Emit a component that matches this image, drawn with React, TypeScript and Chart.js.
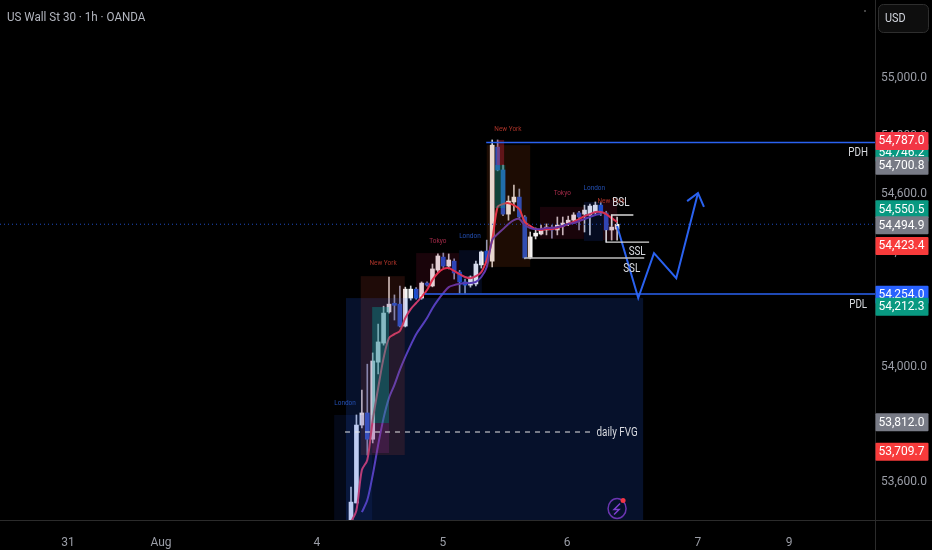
import React, { useEffect, useRef } from "react";
import { Chart, registerables } from "chart.js";

Chart.register(...registerables);

// ---- candles (bar index, prices) ----
const opens = [53452,53529,53799,53841,53750,54017,54083,54191,54221,54218,54142,54239,54270,54239,54291,54281,54336,54381,54350,54367,54329,54295,54284,54288,54354,54402,54367,54762,54683,54530,54572,54589,54520,54378,54454,54461,54475,54485,54475,54489,54499,54509,54534,54530,54527,54537,54561,54534,54475,54478];
const closes = [53532,53799,53841,53750,54021,54087,54187,54218,54214,54142,54270,54270,54239,54291,54284,54340,54385,54350,54371,54326,54295,54284,54312,54357,54399,54364,54769,54683,54530,54575,54589,54520,54378,54451,54464,54475,54485,54475,54492,54499,54509,54527,54520,54544,54558,54561,54534,54475,54485,54494.9];
const highs = [53584,53834,53920,54010,54049,54149,54211,54312,54250,54281,54277,54281,54275,54295,54295,54357,54392,54395,54392,54375,54335,54305,54316,54367,54402,54440,54787,54787,54700,54593,54631,54617,54525,54468,54482,54492,54496,54492,54520,54520,54523,54535,54540,54561,54565,54572,54570,54540,54527,54520];
const lows = [53440,53529,53789,53695,53737,53976,54076,54187,54163,54139,54139,54232,54235,54235,54280,54278,54329,54345,54340,54305,54256,54256,54277,54281,54343,54360,54347,54680,54525,54509,54541,54515,54375,54375,54444,54458,54458,54447,54458,54458,54490,54500,54475,54468,54458,54530,54525,54433,54440,54440];

// ---- moving averages, one value per candle ----
const redAverage = [53463,53504,53643,53678,53816,53927,54031,54101,54114,54125,54170,54201,54222,54243,54267,54302,54326,54340,54343,54333,54322,54312,54308,54315,54329,54371,54440,54555,54565,54568,54561,54548,54503,54489,54478,54475,54478,54478,54482,54489,54496,54503,54513,54523,54530,54537,54537,54530,54516,54503];
const purpleAverage = [null,null,53497,53539,53626,53730,53823,53893,53938,53990,54035,54076,54114,54142,54170,54204,54232,54256,54277,54284,54288,54291,54291,54295,54312,54347,54440,54461,54478,54496,54509,54513,54492,54482,54478,54478,54482,54482,54485,54489,54496,54499,54506,54513,54520,54527,54530];

// ---- projection ----
const projectionX = [49,52.9,55.8,59.9,63.9];
const projectionY = [54489,54239,54395,54308,54603];
const arrowX = [61.9,63.9,65];
const arrowY = [54575,54603,54555];

// ---- axes ----
const dayTickPositions = [-52.1,-35,-6.3,16.9,39.8,63.9,80.7];
const dayTickLabels = ["31","Aug","4","5","6","7","9"];
const priceTicks = [53600,53800,54000,54200,54400,54600,54800,55000];

// ---- price tags on the axis ----
const tagValues = [54746.2,54787.0,54700.8,54550.5,54494.9,54423.4,54254.0,54212.3,53812.0,53709.7];
const tagColors = ["#089981","#f23645","#787b86","#089981","#787b86","#f83b3b","#2962ff","#089981","#787b86","#f83b3b"];

// ---- horizontal levels: [x0, x1, price] ----
const pdhLevel = [24.9,96.5,54778];
const pdlLevel = [13.6,96.5,54253];
const fvgLevel = [-1.1,44.4,53775];
const lastPrice = 54494.9;
const bslX = [48,48,52];
const bslY = [54490,54527,54527];
const ssl1X = [47,47,54.9];
const ssl1Y = [54475,54433,54433];
const ssl2X = [31.9,54];
const ssl2Y = [54378,54378];

// ---- shaded zones ----
const zoneLeft = [-0.92,-3.1,1.8,3.9,3.9,12,19.9,25,26.5,26.9,34.8,42.9,46.4];
const zoneRight = [53.8,3.9,9.9,7,7,19.9,24.1,33,28.4,28.2,42.9,46.4,49];
const zoneTop = [54239,53834,54315,54208,53806,54395,54405,54769,54700,54787,54555,54572,54579];
const zoneBottom = [53470,53470,53695,53806,53702,54250,54256,54347,54551,54700,54444,54437,54440];
const zoneColors = ["rgba(33,100,255,0.17)","rgba(33,80,220,0.11)","rgba(190,70,50,0.16)","rgba(0,170,160,0.34)","rgba(170,40,160,0.2)","rgba(150,25,60,0.17)","rgba(30,70,200,0.14)","rgba(170,70,20,0.17)","rgba(0,170,160,0.35)","rgba(220,40,70,0.35)","rgba(150,25,60,0.17)","rgba(30,70,200,0.16)","rgba(150,25,60,0.2)"];

// ---- labels ----
const sessionNames = ["New York","Tokyo","London","New York","Tokyo","London","New York","London"];
const sessionX = [5.9,16,21.9,28.9,38.9,44.8,47.9,-1.1];
const sessionY = [54360,54437,54454,54825,54603,54620,54575,53875];
const sessionColors = ["#a83228","#a32a48","#2450b4","#a83228","#a32a48","#2450b4","#a83228","#2450b4"];
const noteNames = ["BSL","SSL","SSL","PDH","PDL","daily FVG"];
const noteX = [49.7,52.7,51.7,93.4,93.4,49];
const noteY = [54568,54399,54340,54742,54215,53771];

const title = "US Wall St 30 · 1h · OANDA";
const currency = "USD";
const FONT = "Roboto, sans-serif";

const money = (v: number) =>
  v.toLocaleString("en-US", { minimumFractionDigits: 1, maximumFractionDigits: 1 });

function squeezed(ctx: any, text: string, x: number, y: number, font: string, color: string, sx: number, align: string = "center") {
  ctx.save();
  ctx.translate(x, y);
  ctx.scale(sx, 1);
  ctx.font = font;
  ctx.fillStyle = color;
  ctx.textAlign = align;
  ctx.textBaseline = "middle";
  ctx.fillText(text, 0, 0);
  ctx.restore();
}

const PURPLE_INDEX = 3;

const overlay = {
  id: "overlay",
  afterDatasetDraw(chart: any, args: any) {
    if (args.index !== PURPLE_INDEX) return;
    const { ctx, scales: { x, y }, chartArea: a } = chart;
    ctx.save();
    ctx.beginPath();
    ctx.rect(a.left, a.top, a.right - a.left, a.bottom - a.top);
    ctx.clip();
    zoneLeft.forEach((left, i) => {
      const x0 = x.getPixelForValue(left);
      const x1 = x.getPixelForValue(zoneRight[i]);
      const y0 = y.getPixelForValue(zoneTop[i]);
      const y1 = y.getPixelForValue(zoneBottom[i]);
      ctx.fillStyle = zoneColors[i];
      ctx.fillRect(x0, y0, x1 - x0, y1 - y0);
    });
    ctx.restore();
  },
  afterDatasetsDraw(chart: any) {
    const { ctx, scales: { x, y } } = chart;
    sessionNames.forEach((t, i) => {
      squeezed(ctx, t, x.getPixelForValue(sessionX[i]), y.getPixelForValue(sessionY[i]), `7px ${FONT}`, sessionColors[i], 0.92);
    });
    noteNames.forEach((t, i) => {
      squeezed(ctx, t, x.getPixelForValue(noteX[i]), y.getPixelForValue(noteY[i]), `12px ${FONT}`, "#d9dbe0", 0.82);
    });
    // alert badge
    const bx = x.getPixelForValue(49);
    const by = y.getPixelForValue(53510);
    ctx.save();
    ctx.strokeStyle = "#6a35b0";
    ctx.lineWidth = 1.5;
    ctx.beginPath();
    ctx.ellipse(bx, by, 9, 10, 0, 0, Math.PI * 2);
    ctx.stroke();
    ctx.strokeStyle = "#7e3fd0";
    ctx.beginPath();
    ctx.moveTo(bx + 3, by - 5);
    ctx.lineTo(bx - 3, by + 1);
    ctx.lineTo(bx + 2, by + 1);
    ctx.lineTo(bx - 3, by + 6);
    ctx.stroke();
    ctx.fillStyle = "#f23645";
    ctx.beginPath();
    ctx.arc(bx + 6, by - 8, 2.5, 0, Math.PI * 2);
    ctx.fill();
    ctx.restore();
  },
  afterDraw(chart: any) {
    const { ctx, scales: { y }, chartArea: a, width, height } = chart;
    ctx.save();
    ctx.strokeStyle = "#2b2b2b";
    ctx.lineWidth = 1;
    ctx.beginPath();
    ctx.moveTo(0, a.bottom + 0.5);
    ctx.lineTo(width, a.bottom + 0.5);
    ctx.moveTo(a.right + 0.5, 0);
    ctx.lineTo(a.right + 0.5, height);
    ctx.stroke();
    tagValues.forEach((v, i) => {
      const cy = y.getPixelForValue(v) + 1;
      ctx.fillStyle = tagColors[i];
      ctx.beginPath();
      ctx.roundRect(a.right + 0.5, cy - 9, 53, 18, 1);
      ctx.fill();
      ctx.fillStyle = "#ffffff";
      ctx.font = `12px ${FONT}`;
      ctx.textAlign = "center";
      ctx.textBaseline = "middle";
      ctx.fillText(money(v), a.right + 26.5, cy + 0.5);
    });
    // currency button
    ctx.fillStyle = "#0e0e0e";
    ctx.strokeStyle = "#2e2e2e";
    ctx.beginPath();
    ctx.roundRect(a.right + 3.5, 4.5, 50, 28, 5);
    ctx.fill();
    ctx.stroke();
    squeezed(ctx, currency, a.right + 10, 19, `12px ${FONT}`, "#d1d4dc", 0.9, "left");
    squeezed(ctx, title, 7, 18, `12.5px ${FONT}`, "#b2b5be", 0.93, "left");
    ctx.fillStyle = "#444";
    ctx.fillRect(864, 10, 2, 2);
    ctx.restore();
  },
};

const levelLine = (lv: number[], color: string, width: number, dash: number[]) => ({
  type: "line",
  data: [{ x: lv[0], y: lv[2] }, { x: lv[1], y: lv[2] }],
  borderColor: color,
  borderWidth: width,
  borderDash: dash,
  pointRadius: 0,
  order: 3,
});

const pathLine = (xs: number[], ys: number[], color: string, width: number) => ({
  type: "line",
  data: xs.map((v, i) => ({ x: v, y: ys[i] })),
  borderColor: color,
  borderWidth: width,
  pointRadius: 0,
  order: 2,
});

export default function App() {
  const ref = useRef<HTMLCanvasElement>(null);

  useEffect(() => {
    document.body.style.margin = "0";
    document.body.style.background = "#000";
    const isUp = closes.map((c, i) => c >= opens[i]);
    const chart = new Chart(ref.current as any, {
      type: "bar",
      data: {
        datasets: [
          {
            data: highs.map((h, i) => ({ x: i, y: [lows[i], h] })),
            backgroundColor: isUp.map((u) => (u ? "#d0d0d0" : "#8f9bb8")),
            barThickness: 1,
            grouped: false,
            order: 10,
          },
          {
            data: opens.map((o, i) => ({ x: i, y: [o, closes[i]] })),
            backgroundColor: isUp.map((u) => (u ? "#f4f4f4" : "#1a4fd0")),
            barThickness: 4,
            minBarLength: 1,
            grouped: false,
            order: 9,
          },
          {
            type: "line",
            data: redAverage.map((v, i) => ({ x: i, y: v })),
            borderColor: "#ee3350",
            borderWidth: 2,
            pointRadius: 0,
            tension: 0.3,
            order: 8,
          },
          {
            type: "line",
            data: purpleAverage.map((v, i) => ({ x: i, y: v })),
            borderColor: "#6038b0",
            borderWidth: 2,
            pointRadius: 0,
            tension: 0.3,
            order: 7,
          },
          levelLine(pdhLevel, "#2a62f0", 1.5, []),
          levelLine(pdlLevel, "#2a62f0", 1.5, []),
          levelLine(fvgLevel, "#e6e6e6", 1.2, [5, 5]),
          levelLine([-64.64, 96.5, lastPrice], "#1f4cc0", 1, [1, 3]),
          pathLine(bslX, bslY, "#d8d8d8", 1.3),
          pathLine(ssl1X, ssl1Y, "#d8d8d8", 1.3),
          pathLine(ssl2X, ssl2Y, "#bdbdbd", 1.3),
          pathLine(projectionX, projectionY, "#2a62f0", 2),
          pathLine(arrowX, arrowY, "#2a62f0", 2),
        ] as any,
      },
      options: {
        animation: false,
        responsive: false,
        devicePixelRatio: 1,
        layout: { padding: 0 },
        plugins: { legend: { display: false }, tooltip: { enabled: false }, title: { display: false } },
        scales: {
          x: {
            type: "linear",
            offset: false,
            min: -64.64,
            max: 96.5,
            grid: { display: false, offset: false },
            border: { display: false },
            afterBuildTicks: (s: any) => {
              s.ticks = dayTickPositions.map((value) => ({ value }));
            },
            afterFit: (s: any) => {
              s.height = 30;
              s.paddingLeft = 0;
              s.paddingRight = 0;
            },
            ticks: {
              autoSkip: false,
              maxRotation: 0,
              padding: 8,
              color: "#9a9da6",
              font: { family: FONT, size: 12 },
              callback: (v: any) => dayTickLabels[dayTickPositions.indexOf(v)],
            },
          },
          y: {
            type: "linear",
            position: "right",
            min: 53470,
            max: 55272,
            beginAtZero: false,
            grid: { display: false, drawTicks: false },
            border: { display: false },
            afterBuildTicks: (s: any) => {
              s.ticks = priceTicks.map((value) => ({ value }));
            },
            afterFit: (s: any) => {
              s.width = 57;
              s.paddingTop = 0;
              s.paddingBottom = 0;
            },
            ticks: {
              autoSkip: false,
              padding: 6,
              color: "#9a9da6",
              font: { family: FONT, size: 12 },
              callback: (v: any) => money(v),
            },
          },
        },
      } as any,
      plugins: [overlay as any],
    });
    return () => chart.destroy();
  }, []);

  return (
    <div style={{ width: 932, height: 550, background: "#000" }}>
      <canvas ref={ref} width={932} height={550} style={{ display: "block" }} />
    </div>
  );
}
